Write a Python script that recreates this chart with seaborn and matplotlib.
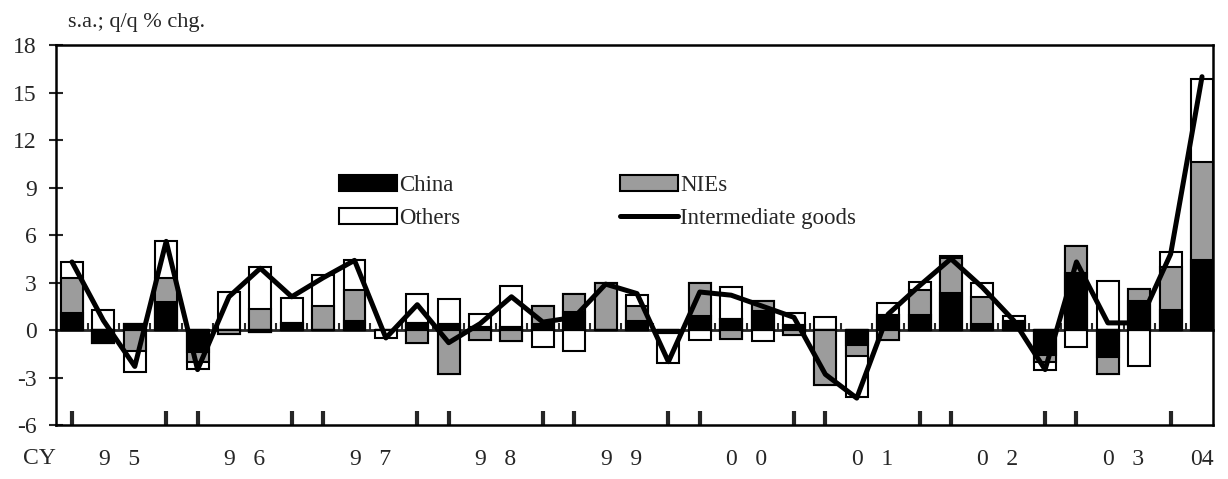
import numpy as np
import pandas as pd
import matplotlib
matplotlib.use("Agg")
import matplotlib.pyplot as plt
import seaborn as sns
from matplotlib.patches import Patch
from matplotlib.lines import Line2D

# Quarterly categories, 1995Q1 - 2004Q1
years = ["95", "96", "97", "98", "99", "00", "01", "02", "03", "04"]
quarters = [f"{y}Q{q}" for y in years[:-1] for q in (1, 2, 3, 4)] + ["04Q1"]
year_labels = ["9   5", "9   6", "9   7", "9   8", "9   9", "0   0", "0   1",
               "0   2", "0   3", "04"]

# contributions (s.a.; q/q % chg.)
china = [1.1, -0.8, 0.4, 1.8, -1.4, 0.0, -0.15, 0.45, 0.0, 0.6, 0.0, 0.45, 0.4,
         0.2, 0.2, 0.4, 1.15, 0.0, 0.6, -0.2, 0.9, 0.7, 1.2, 0.3, 0.0, -0.95,
         0.95, 0.95, 2.35, 0.4, 0.6, -1.6, 3.6, -1.7, 1.85, 1.25, 4.4]
nies = [2.2, 0.0, -1.35, 1.5, -0.6, -0.25, 1.3, 0.0, 1.5, 1.9, 0.0, -0.8, -2.8,
        -0.65, -0.7, 1.1, 1.1, 2.95, 0.9, 0.0, 2.1, -0.55, 0.65, -0.3, -3.5, -0.7,
        -0.6, 1.6, 2.2, 1.7, 0.0, -0.4, 1.7, -1.05, 0.75, 2.75, 6.2]
others = [1.0, 1.25, -1.3, 2.3, -0.45, 2.4, 2.65, 1.55, 2.0, 1.9, -0.5, 1.85, 1.55,
          0.8, 2.6, -1.1, -1.35, 0.0, 0.7, -1.9, -0.65, 2.0, -0.7, 0.75, 0.8, -2.55,
          0.75, 0.5, 0.1, 0.9, 0.3, -0.5, -1.1, 3.1, -2.3, 0.9, 5.25]
intermediate = [4.3, 0.6, -2.3, 5.6, -2.5, 2.1, 3.9, 2.1, 3.3, 4.4, -0.5, 1.6, -0.8,
                0.4, 2.1, 0.5, 0.8, 2.9, 2.3, -2.0, 2.4, 2.2, 1.5, 0.8, -2.8, -4.3,
                1.0, 2.8, 4.5, 2.7, 0.6, -2.5, 4.3, 0.45, 0.45, 4.8, 16.0]

GREY = "#9c9c9c"

sns.set_style("ticks")
plt.rcParams["font.family"] = ["Liberation Serif", "DejaVu Serif"]
plt.rcParams["axes.unicode_minus"] = False

df = pd.DataFrame({"quarter": quarters, "china": china, "nies": nies,
                   "others": others, "intermediate": intermediate})
df["pos"] = np.arange(len(df))

c = df["china"].to_numpy()
n = df["nies"].to_numpy()
o = df["others"].to_numpy()
# positive and negative parts stack separately (China, NIEs, Others)
p1 = np.clip(c, 0, None)
p2 = p1 + np.clip(n, 0, None)
p3 = p2 + np.clip(o, 0, None)
m1 = np.clip(c, None, 0)
m2 = m1 + np.clip(n, None, 0)
m3 = m2 + np.clip(o, None, 0)

fig, ax = plt.subplots(figsize=(12.28, 4.79), dpi=100)
fig.subplots_adjust(left=0.0456, right=0.9878, top=0.906, bottom=0.1127)

# cumulative bars drawn largest first so the smaller ones sit on top
layers = [(p3, "white"), (p2, GREY), (p1, "black"),
          (m3, "white"), (m2, GREY), (m1, "black")]
for heights, col in layers:
    sns.barplot(x=df["pos"], y=heights, ax=ax, color=col, saturation=1,
                edgecolor="black", linewidth=1.5, width=0.7, errorbar=None)

sns.lineplot(x=df["pos"], y=df["intermediate"], ax=ax, color="black",
             linewidth=3.6, zorder=5)

ax.set_ylim(-6, 18)
ax.set_yticks(np.arange(-6, 19, 3))
ax.set_xlim(-0.51, 36.35)
ax.set_xlabel("")
ax.set_ylabel("")

# year labels centred on each year's quarters, ticks at Q1/Q4
yr = df["quarter"].str[:2]
centers = df.groupby(yr, sort=False)["pos"].mean()
ax.set_xticks(centers.values)
ax.set_xticklabels(year_labels, fontsize=17)
edge_q = df.loc[df["quarter"].str.endswith(("Q1", "Q4")), "pos"].values
ax.set_xticks(edge_q, minor=True)
ax.tick_params(axis="x", which="major", length=0, pad=17)
ax.tick_params(axis="x", which="minor", direction="in", length=10, width=3)
ax.tick_params(axis="y", direction="inout", length=10, width=1.5,
               labelsize=17, pad=9)

for sp in ax.spines.values():
    sp.set_linewidth(1.8)
    sp.set_color("black")

# zero line with small ticks between the bars
zero_ax = ax.secondary_xaxis(6 / 24)
zero_ax.set_xticks(df["pos"].values[:-1] + 0.5)
zero_ax.tick_params(direction="in", length=5, width=1.5, labelbottom=False)
zero_ax.spines["bottom"].set_linewidth(2)

fig.text(39 / 1228, 1 - 459 / 479, "CY", fontsize=17, ha="center", va="center")
fig.text(68 / 1228, 1 - 22 / 479, "s.a.; q/q % chg.", fontsize=16,
         ha="left", va="center")

handles = [Patch(facecolor="black", edgecolor="black", linewidth=1.5),
           Patch(facecolor="white", edgecolor="black", linewidth=1.5),
           Patch(facecolor=GREY, edgecolor="black", linewidth=1.5),
           Line2D([], [], color="black", linewidth=3.6)]
labels = ["China", "Others", "NIEs", "Intermediate goods"]
ax.legend(handles, labels, ncol=2, loc="upper left", bbox_to_anchor=(0.235, 0.689),
          frameon=False, fontsize=16.5, handlelength=2.5, handleheight=0.75,
          handletextpad=0.1, columnspacing=7.0, labelspacing=0.5, borderpad=0)

plt.savefig("out.png", dpi=100)
